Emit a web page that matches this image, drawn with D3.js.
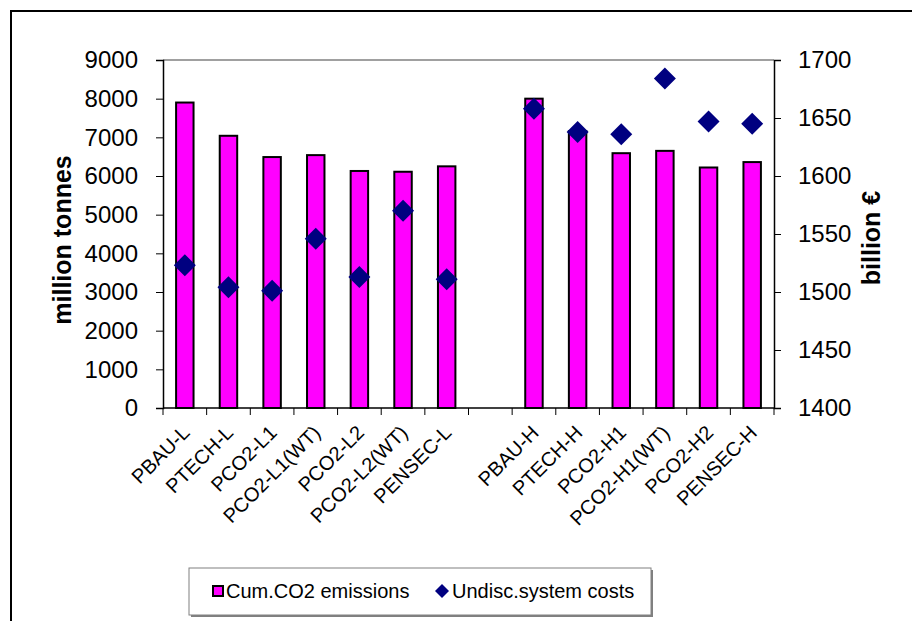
<!DOCTYPE html>
<html>
<head>
  <meta charset="utf-8">
  <title>CO2 emissions and system costs</title>
  <style>
    body { margin: 0; background: #fff; }
    svg { display: block; font-family: "Liberation Sans", Arial, sans-serif; }
  </style>
</head>
<body>
  <svg id="chart" width="912" height="621"></svg>

  <script src="https://d3js.org/d3.v7.min.js"></script>
  <script>
    // data
    const lowCats = ["PBAU-L", "PTECH-L", "PCO2-L1", "PCO2-L1(WT)", "PCO2-L2", "PCO2-L2(WT)", "PENSEC-L"];
    const highCats = ["PBAU-H", "PTECH-H", "PCO2-H1", "PCO2-H1(WT)", "PCO2-H2", "PENSEC-H"];
    const categories = [...lowCats, ...highCats];
    const emissions = [7900, 7040, 6490, 6540, 6130, 6110, 6250, 8000, 7160, 6590, 6650, 6220, 6360];
    const costs = [1523, 1504, 1501, 1546, 1513, 1570, 1511, 1658, 1638, 1636, 1684, 1647, 1645];
    const leftTicks = [0, 1000, 2000, 3000, 4000, 5000, 6000, 7000, 8000, 9000];
    const rightTicks = [1400, 1450, 1500, 1550, 1600, 1650, 1700];

    const svg = d3.select("#chart");

    // plot area
    const pLeft = 163, pRight = 774, pTop = 60, pBottom = 408;

    // outer frame (only top and left edges are visible)
    svg.append("path")
      .attr("d", "M11,621 L11,11 L912,11")
      .attr("fill", "none")
      .attr("stroke", "#000")
      .attr("stroke-width", 2);

    // one empty slot between the two groups
    const slots = [...lowCats, "__gap__", ...highCats];
    const x = d3.scaleBand().domain(slots).range([pLeft, pRight]);
    const yL = d3.scaleLinear().domain([0, 9000]).range([pBottom, pTop]);
    const yR = d3.scaleLinear().domain([1400, 1700]).range([pBottom, pTop]);

    // top border of plot
    svg.append("line")
      .attr("x1", pLeft).attr("x2", pRight)
      .attr("y1", pTop).attr("y2", pTop)
      .attr("stroke", "#808080").attr("stroke-width", 1.5);

    // bars
    const barW = x.bandwidth() * 0.4;
    svg.append("g").selectAll("rect")
      .data(categories)
      .join("rect")
      .attr("x", (d) => x(d) + x.bandwidth() / 2 - barW / 2)
      .attr("y", (d, i) => yL(emissions[i]))
      .attr("width", barW)
      .attr("height", (d, i) => pBottom - yL(emissions[i]))
      .attr("fill", "#ff00ff")
      .attr("stroke", "#000")
      .attr("stroke-width", 2);

    // left axis
    const gL = svg.append("g")
      .attr("transform", `translate(${pLeft},0)`)
      .call(d3.axisLeft(yL).tickValues(leftTicks).tickSize(7).tickPadding(18).tickFormat(d3.format("d")));
    gL.select(".domain").attr("stroke", "#000").attr("stroke-width", 1.5);

    // right axis
    const gR = svg.append("g")
      .attr("transform", `translate(${pRight},0)`)
      .call(d3.axisRight(yR).tickValues(rightTicks).tickSize(7).tickPadding(17).tickFormat(d3.format("d")));
    gR.select(".domain").attr("stroke", "#000").attr("stroke-width", 1.5);

    [gL, gR].forEach((g) => {
      g.selectAll("text").attr("font-size", 24).attr("fill", "#000").attr("font-family", "Liberation Sans, Arial, sans-serif");
      g.selectAll(".tick line").attr("stroke", "#000");
    });

    // bottom axis: ticks between categories
    const gB = svg.append("g");
    gB.append("line")
      .attr("x1", pLeft).attr("x2", pRight)
      .attr("y1", pBottom).attr("y2", pBottom)
      .attr("stroke", "#000").attr("stroke-width", 1.5);
    const bounds = slots.map((d) => x(d)).concat([pRight]);
    gB.selectAll("line.tk")
      .data(bounds)
      .join("line")
      .attr("class", "tk")
      .attr("x1", (d) => d).attr("x2", (d) => d)
      .attr("y1", pBottom).attr("y2", pBottom + 7)
      .attr("stroke", "#000");

    // category labels, rotated
    gB.selectAll("text")
      .data(categories)
      .join("text")
      .attr("transform", (d) => `translate(${x(d) + x.bandwidth() / 2 + 6},${pBottom + 26}) rotate(-45)`)
      .attr("text-anchor", "end")
      .attr("font-size", 20)
      .text((d) => d);

    // diamonds
    const diamond = (cx, cy, r) => `M${cx},${cy - r} L${cx + r},${cy} L${cx},${cy + r} L${cx - r},${cy} Z`;
    svg.append("g").selectAll("path")
      .data(categories)
      .join("path")
      .attr("d", (d, i) => diamond(x(d) + x.bandwidth() / 2, yR(costs[i]), 11))
      .attr("fill", "#000080");

    // axis titles
    svg.append("text")
      .attr("transform", "translate(71,240) rotate(-90)")
      .attr("text-anchor", "middle")
      .attr("font-size", 25)
      .attr("font-weight", "bold")
      .text("million tonnes");

    svg.append("text")
      .attr("transform", "translate(880,238) rotate(-90)")
      .attr("text-anchor", "middle")
      .attr("font-size", 25)
      .attr("font-weight", "bold")
      .text("billion €");

    // legend
    const lg = svg.append("g");
    lg.append("rect")
      .attr("x", 191).attr("y", 570).attr("width", 462).attr("height", 47)
      .attr("fill", "#808080");
    lg.append("rect")
      .attr("x", 189).attr("y", 568).attr("width", 462).attr("height", 47)
      .attr("fill", "#fff").attr("stroke", "#808080").attr("stroke-width", 1);
    lg.append("rect")
      .attr("x", 213).attr("y", 586).attr("width", 10).attr("height", 10)
      .attr("fill", "#ff00ff").attr("stroke", "#000").attr("stroke-width", 2);
    lg.append("text")
      .attr("x", 226).attr("y", 598).attr("font-size", 20)
      .text("Cum.CO2 emissions");
    lg.append("path")
      .attr("d", diamond(442, 591, 7))
      .attr("fill", "#000080");
    lg.append("text")
      .attr("x", 452).attr("y", 598).attr("font-size", 20)
      .text("Undisc.system costs");
  </script>
</body>
</html>
